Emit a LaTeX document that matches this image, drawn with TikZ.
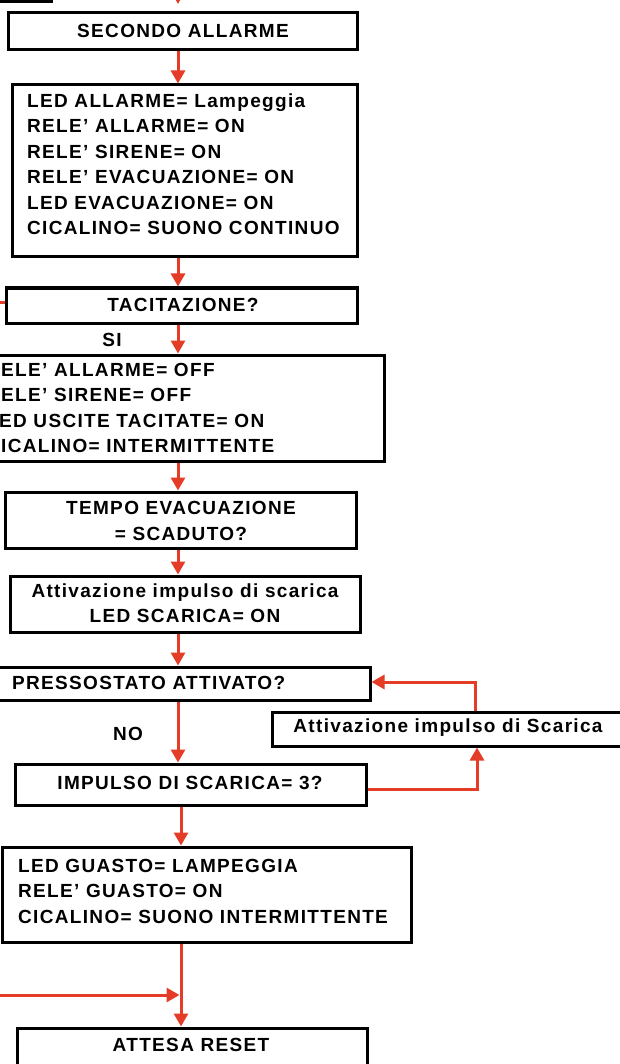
\documentclass[tikz,border=0pt]{standalone}
\usepackage{fontspec}
\newfontfamily\lab[LetterSpace=7]{Liberation Sans}
\usetikzlibrary{arrows.meta,calc}
\definecolor{flred}{RGB}{228,60,38}
\tikzset{
  box/.style={draw=black, line width=3pt, inner sep=0pt, fill=white},
  txt/.style={font=\lab\bfseries\fontsize{19}{25.5}\selectfont, inner sep=0pt, text=black},
  arr/.style={draw=flred, line width=3pt, -{Triangle[width=14pt,length=13pt]}},
  rline/.style={draw=flred, line width=3pt},
}
\begin{document}
\begin{tikzpicture}[x=1pt,y=-1pt]
\useasboundingbox (0,0) rectangle (620,1064);
\clip (0,0) rectangle (620,1064);
\coordinate (ax) at (178,0);
\coordinate (axb) at (181,0);
% boxes
\node[box, minimum width=71pt, minimum height=42pt] (b0) at (15.5,-19) {};
\node[box, minimum width=349pt, minimum height=37pt] (b1) at (182.5,31.5) {};
\node[box, minimum width=345pt, minimum height=172pt] (b2) at (184.5,171) {};
\node[box, minimum width=351pt, minimum height=35pt] (b3) at (181.5,305.5) {};
\node[box, minimum width=414pt, minimum height=106pt] (b4) at (177,408) {};
\node[box, minimum width=351pt, minimum height=56pt] (b5) at (180.5,520) {};
\node[box, minimum width=350pt, minimum height=56pt] (b6) at (185,604) {};
\node[box, minimum width=400pt, minimum height=33pt] (b7) at (170,683.5) {};
\node[box, minimum width=368pt, minimum height=34pt] (b8) at (456,729) {};
\node[box, minimum width=351pt, minimum height=41pt] (b9) at (190.5,784.5) {};
\node[box, minimum width=409pt, minimum height=95pt] (b10) at (206.5,894.5) {};
\node[box, minimum width=350pt, minimum height=62pt] (b11) at (192,1059) {};
% texts
\node[txt] (t1) at (183,31) {SECONDO ALLARME};
\node[txt, align=left, anchor=west] (t2) at (27,164) {LED ALLARME= Lampeggia\\RELE’ ALLARME= ON\\RELE’ SIRENE= ON\\RELE’ EVACUAZIONE= ON\\LED EVACUAZIONE= ON\\CICALINO= SUONO CONTINUO};
\node[txt] (t3) at (183,305) {TACITAZIONE?};
\node[txt] (si) at (112,340) {SI};
\node[txt, align=left, anchor=west] (t4) at (-14,408) {RELE’ ALLARME= OFF\\RELE’ SIRENE= OFF\\LED USCITE TACITATE= ON\\CICALINO= INTERMITTENTE};
\node[txt, align=center] (t5) at (181,521) {TEMPO EVACUAZIONE\\= SCADUTO?};
\node[txt, align=center] (t6) at (185,603) {Attivazione impulso di scarica\\LED SCARICA= ON};
\node[txt, anchor=west] (t7) at (12,683) {PRESSOSTATO ATTIVATO?};
\node[txt] (no) at (128,734) {NO};
\node[txt] (t8) at (448,728) {Attivazione impulso di Scarica};
\node[txt] (t9) at (190,783) {IMPULSO DI SCARICA= 3?};
\node[txt, align=left, anchor=west] (t10) at (18,891) {LED GUASTO= LAMPEGGIA\\RELE’ GUASTO= ON\\CICALINO= SUONO INTERMITTENTE};
\node[txt] (t11) at (191,1045) {ATTESA RESET};
% connectors
\coordinate (c0a) at (178,-30);
\coordinate (c0b) at (178,4);
\draw[arr] (c0a) -- (c0b);
\draw[arr] (ax |- b1.south) -- (ax |- b2.north);
\draw[arr] (ax |- b2.south) -- (ax |- b3.north);
\draw[arr] (ax |- b3.south) -- (ax |- b4.north);
\draw[arr] (ax |- b4.south) -- (ax |- b5.north);
\draw[arr] (ax |- b5.south) -- (ax |- b6.north);
\draw[arr] (ax |- b6.south) -- (ax |- b7.north);
\draw[arr] (ax |- b7.south) -- (ax |- b9.north);
\draw[arr] (axb |- b9.south) -- (axb |- b10.north);
\draw[arr] (axb |- b10.south) -- (axb |- b11.north);
\coordinate (l3) at (-10,302);
\draw[rline] (l3) -- (l3 -| b3.west);
\draw[arr] ([yshift=-4.5pt]b9.east) -| ([xshift=21pt]b8.south);
\draw[arr] ([xshift=19pt]b8.north) |- ([yshift=1.5pt]b7.east);
\coordinate (lb) at (-10,995);
\draw[arr, shorten >=1.5pt] (lb) -- (axb |- lb);
\end{tikzpicture}
\end{document}
